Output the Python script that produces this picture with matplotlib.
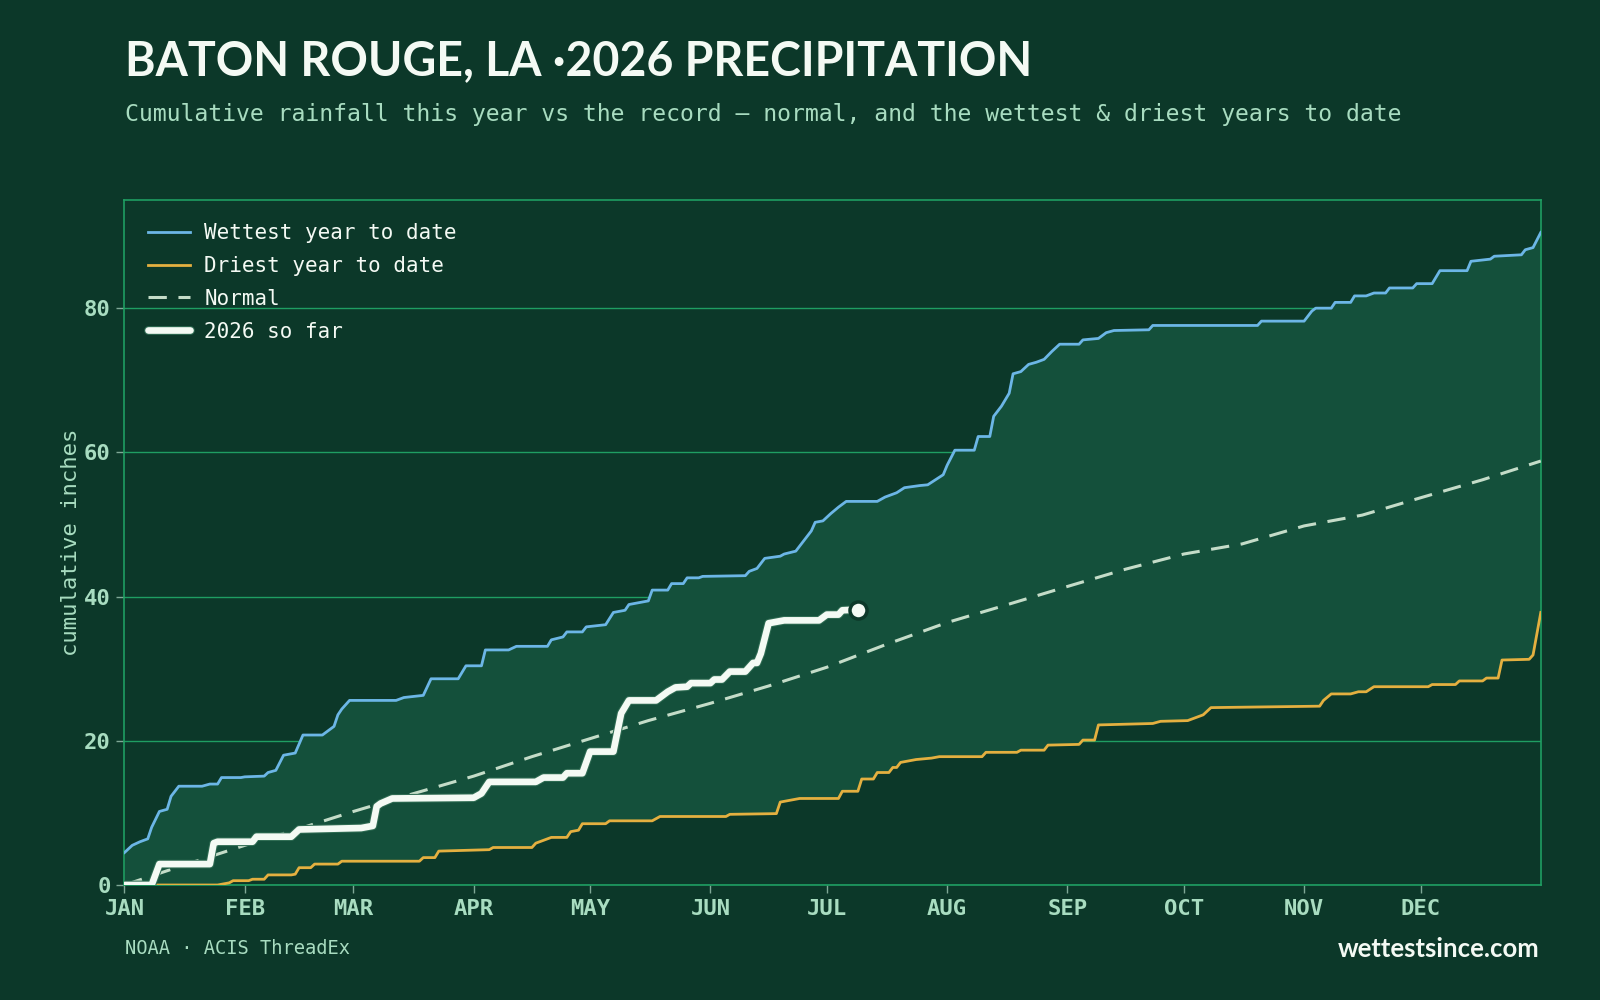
import numpy as np
import matplotlib.pyplot as plt
import matplotlib.patheffects as pe

# --- data (day of year, cumulative inches) ---

wet_day = [0, 2, 4, 6, 7, 9, 11, 12, 14, 20, 22, 24, 25, 30, 31, 36, 37, 39, 41, 44,
           46, 51, 54, 55, 56, 58, 70, 72, 77, 79, 86, 88, 92, 93, 99, 101, 109, 110,
           113, 114, 118, 119, 124, 126, 129, 130, 135, 136, 140, 141, 144, 145, 148,
           149, 160, 161, 163, 165, 169, 170, 173, 175, 177, 178, 180, 182, 184, 186,
           194, 196, 199, 201, 205, 207, 209, 211, 212, 214, 219, 220, 223, 224, 226,
           228, 229, 231, 233, 235, 237, 239, 241, 246, 247, 251, 253, 255, 264, 265,
           292, 293, 304, 306, 307, 311, 312, 316, 317, 320, 322, 325, 326, 332, 333,
           337, 339, 346, 347, 352, 353, 360, 361, 363, 365]
wet_val = [4.5, 5.5, 6.0, 6.4, 8.0, 10.2, 10.5, 12.3, 13.7, 13.7, 14.0, 14.0, 14.9, 14.9,
           15.0, 15.1, 15.6, 15.9, 18.0, 18.3, 20.8, 20.8, 22.0, 23.6, 24.4, 25.6, 25.6,
           26.0, 26.3, 28.6, 28.6, 30.4, 30.4, 32.6, 32.6, 33.1, 33.1, 34.0, 34.4, 35.1,
           35.1, 35.8, 36.1, 37.8, 38.1, 38.9, 39.4, 40.9, 40.9, 41.8, 41.8, 42.6, 42.6,
           42.8, 42.9, 43.5, 43.9, 45.3, 45.6, 45.9, 46.3, 47.7, 49.1, 50.3, 50.5, 51.5,
           52.4, 53.2, 53.2, 53.8, 54.4, 55.1, 55.4, 55.5, 56.2, 56.9, 58.2, 60.3, 60.3,
           62.2, 62.2, 65.0, 66.4, 68.2, 70.9, 71.2, 72.2, 72.5, 72.9, 74.0, 75.0, 75.0,
           75.6, 75.8, 76.6, 76.9, 77.0, 77.6, 77.6, 78.2, 78.2, 79.6, 80.0, 80.0, 80.8,
           80.8, 81.7, 81.7, 82.1, 82.1, 82.8, 82.8, 83.4, 83.4, 85.2, 85.2, 86.5, 86.8,
           87.2, 87.4, 88.1, 88.4, 90.5]

dry_day = [0, 24, 27, 28, 32, 33, 36, 37, 43, 44, 45, 48, 49, 55, 56, 76, 77, 80, 81,
           94, 95, 105, 106, 108, 110, 114, 115, 117, 118, 124, 125, 136, 138, 155, 156,
           168, 169, 172, 174, 184, 185, 189, 190, 193, 194, 197, 198, 199, 200, 204,
           208, 210, 221, 222, 230, 231, 237, 238, 246, 247, 250, 251, 265, 267, 274,
           276, 278, 280, 308, 309, 311, 316, 318, 320, 322, 336, 337, 343, 344, 350,
           351, 354, 355, 362, 363, 365]
dry_val = [0.0, 0.0, 0.3, 0.6, 0.6, 0.8, 0.8, 1.4, 1.4, 1.5, 2.4, 2.4, 2.9, 2.9, 3.3,
           3.3, 3.8, 3.8, 4.7, 4.9, 5.2, 5.2, 5.8, 6.2, 6.6, 6.6, 7.4, 7.6, 8.5, 8.5,
           8.9, 8.9, 9.5, 9.5, 9.8, 9.9, 11.5, 11.8, 12.0, 12.0, 13.0, 13.0, 14.7, 14.7,
           15.6, 15.6, 16.3, 16.3, 17.0, 17.4, 17.6, 17.8, 17.8, 18.4, 18.4, 18.7, 18.7,
           19.4, 19.5, 20.1, 20.1, 22.2, 22.4, 22.7, 22.8, 23.2, 23.6, 24.6, 24.8, 25.6,
           26.5, 26.5, 26.8, 26.8, 27.5, 27.5, 27.8, 27.8, 28.3, 28.3, 28.7, 28.7, 31.2,
           31.3, 31.9, 37.8]

normal_day = [0, 15, 31, 45, 59, 74, 90, 105, 120, 135, 151, 166, 181, 196, 212, 227,
              243, 258, 273, 288, 304, 319, 334, 350, 365]
normal_val = [0.0, 2.7, 5.5, 7.8, 10.2, 12.6, 15.1, 17.8, 20.3, 22.8, 25.2, 27.6, 30.2,
              33.3, 36.4, 38.8, 41.4, 43.8, 45.9, 47.3, 49.8, 51.3, 53.7, 56.2, 58.8]

ytd_day = [0, 7, 9, 22, 23, 24, 33, 34, 43, 45, 61, 64, 65, 66, 69, 90, 92, 94, 97,
           106, 108, 113, 114, 118, 120, 126, 128, 130, 137, 140, 142, 145, 146, 151,
           152, 154, 156, 160, 162, 163, 164, 166, 170, 179, 181, 184, 185, 189]
ytd_val = [0.0, 0.0, 2.9, 2.9, 5.8, 6.0, 6.0, 6.7, 6.7, 7.7, 7.9, 8.2, 10.9, 11.3,
           12.0, 12.1, 12.7, 14.3, 14.3, 14.3, 14.9, 14.9, 15.5, 15.5, 18.5, 18.5, 23.8,
           25.6, 25.6, 26.8, 27.4, 27.5, 28.0, 28.0, 28.5, 28.5, 29.6, 29.6, 30.8, 30.8,
           32.1, 36.3, 36.7, 36.7, 37.5, 37.5, 38.1, 38.2]

month_start = [0, 31, 59, 90, 120, 151, 181, 212, 243, 273, 304, 334]
month_names = ['JAN', 'FEB', 'MAR', 'APR', 'MAY', 'JUN', 'JUL', 'AUG', 'SEP', 'OCT',
               'NOV', 'DEC']

# --- colours ---
BG = '#0c3829'
BAND = '#14503b'
GRID = '#1f9e62'
PALE = '#a8dcc0'
WHITE = '#f4faf4'
BLUE = '#6cb6e6'
GOLD = '#e4b040'
NORM = '#c4dcc8'
MONO = 'DejaVu Sans Mono'
SANS = ['Lato', 'DejaVu Sans']

fig = plt.figure(figsize=(16, 10), dpi=100, facecolor=BG)
ax = fig.add_axes([0.0778, 0.115, 0.8852, 0.685], facecolor=BG)

# band between driest and wettest
band_x = np.concatenate([wet_day, dry_day[::-1]])
band_y = np.concatenate([wet_val, dry_val[::-1]])
ax.fill(band_x, band_y, color=BAND, lw=0, zorder=1)

ax.plot(wet_day, wet_val, color=BLUE, lw=2, label='Wettest year to date', zorder=3)
ax.plot(dry_day, dry_val, color=GOLD, lw=2, label='Driest year to date', zorder=3)
ax.plot(normal_day, normal_val, color=NORM, lw=2.2, ls=(0, (6, 3.8)), label='Normal',
        zorder=3)
ax.plot(ytd_day, ytd_val, color=WHITE, lw=4.8, label='2026 so far', zorder=5,
        solid_capstyle='round',
        path_effects=[pe.Stroke(linewidth=6.3, foreground='#2e6b52'), pe.Normal()])
ax.scatter([ytd_day[-1]], [ytd_val[-1]], s=150, color=WHITE, edgecolor=BG,
           linewidth=2.5, zorder=6)

ax.set_xlim(0, 365)
ax.set_ylim(0, 95)
ax.set_xticks(month_start)
ax.set_xticklabels(month_names)
ax.set_yticks([0, 20, 40, 60, 80])
ax.grid(axis='y', color=GRID, lw=1)
ax.set_axisbelow(True)
for s in ax.spines.values():
    s.set_color(GRID)
    s.set_linewidth(1.2)
ax.tick_params(colors='#7fa896', labelcolor=PALE, length=6, width=1, pad=4)
for lab in ax.get_xticklabels() + ax.get_yticklabels():
    lab.set_family(MONO)
    lab.set_fontweight('bold')
    lab.set_fontsize(16)
ax.set_ylabel('cumulative inches', family=MONO, color=PALE, fontsize=16, labelpad=2)

leg = ax.legend(loc='upper left', bbox_to_anchor=(0.002, 0.997), frameon=False,
                prop={'family': MONO, 'size': 15}, handlelength=2.0,
                handletextpad=0.7, labelspacing=0.62, borderaxespad=0.6)
for t in leg.get_texts():
    t.set_color(WHITE)

fig.text(0.078, 0.925, 'BATON ROUGE, LA \u00b72026 PRECIPITATION', family=SANS,
         fontweight='bold', fontsize=33.5, color=WHITE, va='baseline')
fig.text(0.078, 0.886, 'Cumulative rainfall this year vs the record \u2014 normal, and the '
         'wettest & driest years to date', family=MONO, fontsize=16.65, color=PALE,
         va='center')
fig.text(0.078, 0.052, 'NOAA \u00b7 ACIS ThreadEx', family=MONO, fontsize=13.5,
         color=PALE, va='center')
fig.text(0.962, 0.051, 'wettestsince.com', family=SANS, fontweight='bold',
         fontsize=18.5, color=WHITE, va='center', ha='right')

fig.savefig('out.png', dpi=100, facecolor=BG)
